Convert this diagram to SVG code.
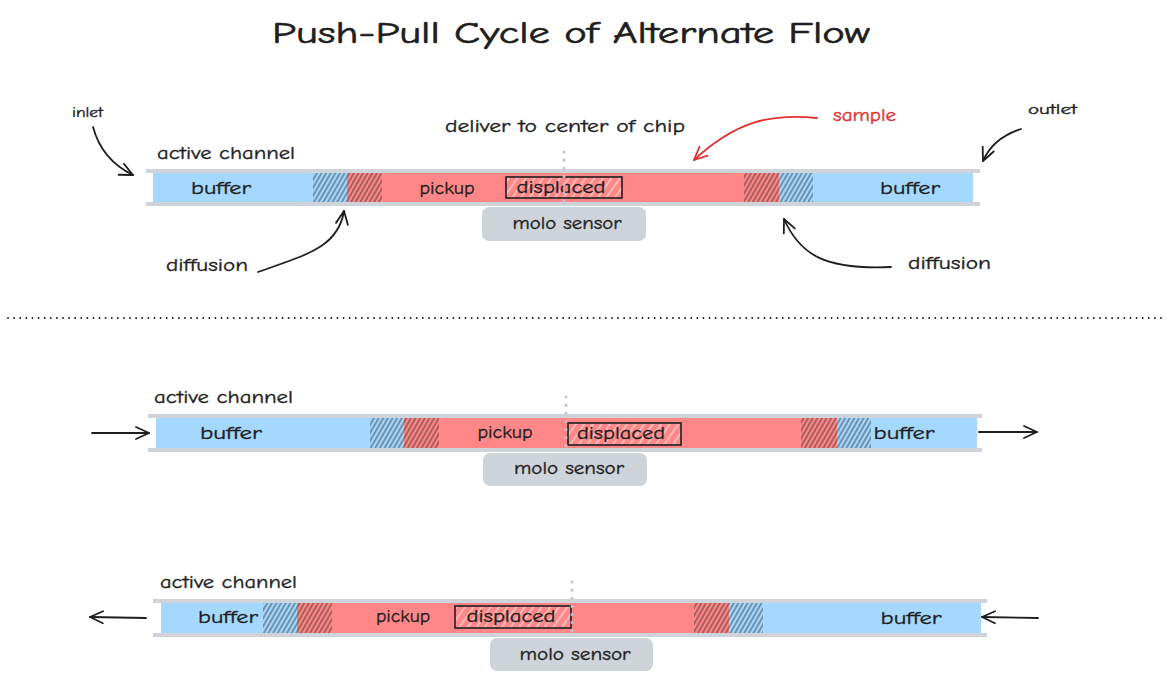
<svg xmlns="http://www.w3.org/2000/svg" width="1172" height="681" viewBox="0 0 1172 681">
<defs>
<style>
.t{font-family:"Comic Neue","Liberation Sans",sans-serif;fill:#1e1e1e;stroke:#1e1e1e;stroke-width:0.35;}
.wall{stroke:#ced4da;stroke-width:4;fill:none;}
.blue{fill:#a5d8ff;}
.red{fill:#ff8787;}
.sensor{fill:#ced4da;}
.disp{stroke:#1e1e1e;stroke-width:1.6;}
.conn{fill:none;stroke:#1e1e1e;stroke-width:1.8;stroke-linecap:round;}
.vdot{stroke:#bfc4c9;stroke-width:3;stroke-linecap:round;stroke-dasharray:0.1 8;fill:none;}
</style>
<pattern id="hatchDark" patternUnits="userSpaceOnUse" width="4" height="10" patternTransform="rotate(30)">
<line x1="1" y1="0" x2="1" y2="10" stroke="#1e1e1e" stroke-opacity="0.85" stroke-width="0.9"/>
</pattern>
<pattern id="hatchWhite" patternUnits="userSpaceOnUse" width="7" height="10" patternTransform="rotate(35)">
<line x1="1" y1="0" x2="1" y2="10" stroke="#ffffff" stroke-opacity="0.8" stroke-width="1"/>
</pattern>
<marker id="ah" markerUnits="userSpaceOnUse" markerWidth="20" markerHeight="20" viewBox="-16 -10 20 20" refX="0" refY="0" orient="auto">
<path d="M-13,-6 L0,0 L-13,6" fill="none" stroke="#1e1e1e" stroke-width="1.8" stroke-linecap="round" stroke-linejoin="round"/>
</marker>
<marker id="ahRed" markerUnits="userSpaceOnUse" markerWidth="20" markerHeight="20" viewBox="-16 -10 20 20" refX="0" refY="0" orient="auto">
<path d="M-13,-6 L0,0 L-13,6" fill="none" stroke="#e03131" stroke-width="1.8" stroke-linecap="round" stroke-linejoin="round"/>
</marker>
</defs>
<rect width="1172" height="681" fill="#ffffff"/>

<g id="title">
<text class="t" x="571" y="43" text-anchor="middle" font-size="31" textLength="598" lengthAdjust="spacingAndGlyphs" style="stroke-width:0.6">Push-Pull Cycle of Alternate Flow</text>
</g>

<!-- ===== Channel 1 ===== -->
<g id="channel1">
<rect class="blue" x="153" y="173" width="160" height="29"/>
<rect class="blue" x="313" y="173" width="34" height="29"/>
<rect fill="url(#hatchDark)" x="313" y="173" width="34" height="29"/>
<rect class="red" x="347" y="173" width="35" height="29"/>
<rect fill="url(#hatchDark)" x="347" y="173" width="35" height="29"/>
<rect class="red" x="382" y="173" width="362" height="29"/>
<rect class="red" x="744" y="173" width="35" height="29"/>
<rect fill="url(#hatchDark)" x="744" y="173" width="35" height="29"/>
<rect class="blue" x="779" y="173" width="34" height="29"/>
<rect fill="url(#hatchDark)" x="779" y="173" width="34" height="29"/>
<rect class="blue" x="813" y="173" width="160" height="29"/>
<line class="wall" x1="146" y1="171" x2="980" y2="171"/>
<line class="wall" x1="146" y1="204" x2="980" y2="204"/>
<text class="t" x="157" y="159" font-size="18" textLength="138" lengthAdjust="spacingAndGlyphs">active channel</text>
<text class="t" x="221" y="194" font-size="18" text-anchor="middle" textLength="60" lengthAdjust="spacingAndGlyphs">buffer</text>
<text class="t" x="447" y="194" font-size="18" text-anchor="middle" textLength="55" lengthAdjust="spacingAndGlyphs">pickup</text>
<text class="t" x="910" y="194" font-size="18" text-anchor="middle" textLength="60" lengthAdjust="spacingAndGlyphs">buffer</text>
</g>
<g id="displaced1">
<rect x="506" y="177" width="116" height="21" fill="url(#hatchWhite)" class="disp"/>
<text class="t" x="561" y="193" font-size="18" text-anchor="middle" textLength="89" lengthAdjust="spacingAndGlyphs">displaced</text>
</g>
<g id="sensor1">
<rect class="sensor" x="482" y="207" width="164" height="34" rx="7"/>
<text class="t" x="567" y="229" font-size="18" text-anchor="middle" textLength="109" lengthAdjust="spacingAndGlyphs">molo sensor</text>
</g>
<g id="center1">
<line class="vdot" x1="564" y1="152" x2="564" y2="206"/>
</g>
<g id="labels1">
<text class="t" x="72" y="117" font-size="14" textLength="31" lengthAdjust="spacingAndGlyphs">inlet</text>
<text class="t" x="1028" y="114" font-size="14" textLength="49" lengthAdjust="spacingAndGlyphs">outlet</text>
<text class="t" x="445" y="132" font-size="18" textLength="240" lengthAdjust="spacingAndGlyphs">deliver to center of chip</text>
<text class="t" x="833" y="121" font-size="18" textLength="63" lengthAdjust="spacingAndGlyphs" style="fill:#e03131;stroke:#e03131">sample</text>
<text class="t" x="166" y="271" font-size="18" textLength="82" lengthAdjust="spacingAndGlyphs">diffusion</text>
<text class="t" x="908" y="269" font-size="18" textLength="83" lengthAdjust="spacingAndGlyphs">diffusion</text>
</g>

<!-- separator -->
<g id="separator">
<line x1="8" y1="318" x2="1165" y2="318" stroke="#1e1e1e" stroke-width="1.8" stroke-linecap="round" stroke-dasharray="0.1 6"/>
</g>

<!-- ===== Channel 2 ===== -->
<g id="channel2">
<rect class="blue" x="156" y="418" width="214" height="30"/>
<rect class="blue" x="370" y="418" width="34" height="30"/>
<rect fill="url(#hatchDark)" x="370" y="418" width="34" height="30"/>
<rect class="red" x="404" y="418" width="35" height="30"/>
<rect fill="url(#hatchDark)" x="404" y="418" width="35" height="30"/>
<rect class="red" x="439" y="418" width="362" height="30"/>
<rect class="red" x="801" y="418" width="36" height="30"/>
<rect fill="url(#hatchDark)" x="801" y="418" width="36" height="30"/>
<rect class="blue" x="837" y="418" width="34" height="30"/>
<rect fill="url(#hatchDark)" x="837" y="418" width="34" height="30"/>
<rect class="blue" x="871" y="418" width="106" height="30"/>
<line class="wall" x1="148" y1="416" x2="982" y2="416"/>
<line class="wall" x1="148" y1="450" x2="982" y2="450"/>
<text class="t" x="154" y="403" font-size="18" textLength="139" lengthAdjust="spacingAndGlyphs">active channel</text>
<text class="t" x="231" y="439" font-size="18" text-anchor="middle" textLength="62" lengthAdjust="spacingAndGlyphs">buffer</text>
<text class="t" x="505" y="438" font-size="18" text-anchor="middle" textLength="55" lengthAdjust="spacingAndGlyphs">pickup</text>
<text class="t" x="904" y="439" font-size="18" text-anchor="middle" textLength="61" lengthAdjust="spacingAndGlyphs">buffer</text>
</g>
<g id="displaced2">
<rect x="568" y="423" width="113" height="22" fill="url(#hatchWhite)" class="disp"/>
<text class="t" x="621" y="439" font-size="18" text-anchor="middle" textLength="88" lengthAdjust="spacingAndGlyphs">displaced</text>
</g>
<g id="sensor2">
<rect class="sensor" x="483" y="453" width="164" height="33" rx="7"/>
<text class="t" x="569" y="474" font-size="18" text-anchor="middle" textLength="110" lengthAdjust="spacingAndGlyphs">molo sensor</text>
</g>
<g id="center2">
<line class="vdot" x1="566" y1="397" x2="566" y2="450"/>
</g>

<!-- ===== Channel 3 ===== -->
<g id="channel3">
<rect class="blue" x="161" y="603" width="102" height="30"/>
<rect class="blue" x="263" y="603" width="34" height="30"/>
<rect fill="url(#hatchDark)" x="263" y="603" width="34" height="30"/>
<rect class="red" x="297" y="603" width="35" height="30"/>
<rect fill="url(#hatchDark)" x="297" y="603" width="35" height="30"/>
<rect class="red" x="332" y="603" width="362" height="30"/>
<rect class="red" x="694" y="603" width="35" height="30"/>
<rect fill="url(#hatchDark)" x="694" y="603" width="35" height="30"/>
<rect class="blue" x="729" y="603" width="34" height="30"/>
<rect fill="url(#hatchDark)" x="729" y="603" width="34" height="30"/>
<rect class="blue" x="763" y="603" width="218" height="30"/>
<line class="wall" x1="153" y1="601" x2="987" y2="601"/>
<line class="wall" x1="153" y1="635" x2="987" y2="635"/>
<text class="t" x="160" y="588" font-size="18" textLength="137" lengthAdjust="spacingAndGlyphs">active channel</text>
<text class="t" x="228" y="623" font-size="18" text-anchor="middle" textLength="60" lengthAdjust="spacingAndGlyphs">buffer</text>
<text class="t" x="403" y="622" font-size="18" text-anchor="middle" textLength="54" lengthAdjust="spacingAndGlyphs">pickup</text>
<text class="t" x="911" y="624" font-size="18" text-anchor="middle" textLength="61" lengthAdjust="spacingAndGlyphs">buffer</text>
</g>
<g id="displaced3">
<rect x="455" y="606" width="116" height="22" fill="url(#hatchWhite)" class="disp"/>
<text class="t" x="511" y="622" font-size="18" text-anchor="middle" textLength="89" lengthAdjust="spacingAndGlyphs">displaced</text>
</g>
<g id="sensor3">
<rect class="sensor" x="490" y="638" width="163" height="33" rx="7"/>
<text class="t" x="575" y="660" font-size="18" text-anchor="middle" textLength="111" lengthAdjust="spacingAndGlyphs">molo sensor</text>
</g>
<g id="center3">
<line class="vdot" x1="572" y1="582" x2="572" y2="635"/>
</g>

<!-- ===== Connectors ===== -->
<g id="connectors">
<path class="conn" d="M93,127 Q102,160 133,175" marker-end="url(#ah)"/>
<path class="conn" d="M1021,129 Q993,138 983,161" marker-end="url(#ah)"/>
<path class="conn" d="M817,118 C770,113 735,122 694,160" style="stroke:#e03131" marker-end="url(#ahRed)"/>
<path class="conn" d="M258,272 C305,255 338,248 344,211" marker-end="url(#ah)"/>
<path class="conn" d="M891,267 C825,270 800,255 784,219" marker-end="url(#ah)"/>
<path class="conn" d="M92,433 L149,433" marker-end="url(#ah)"/>
<path class="conn" d="M979,432 L1037,432" marker-end="url(#ah)"/>
<path class="conn" d="M146,618 L90,617" marker-end="url(#ah)"/>
<path class="conn" d="M1038,618 L982,617" marker-end="url(#ah)"/>
</g>
</svg>
